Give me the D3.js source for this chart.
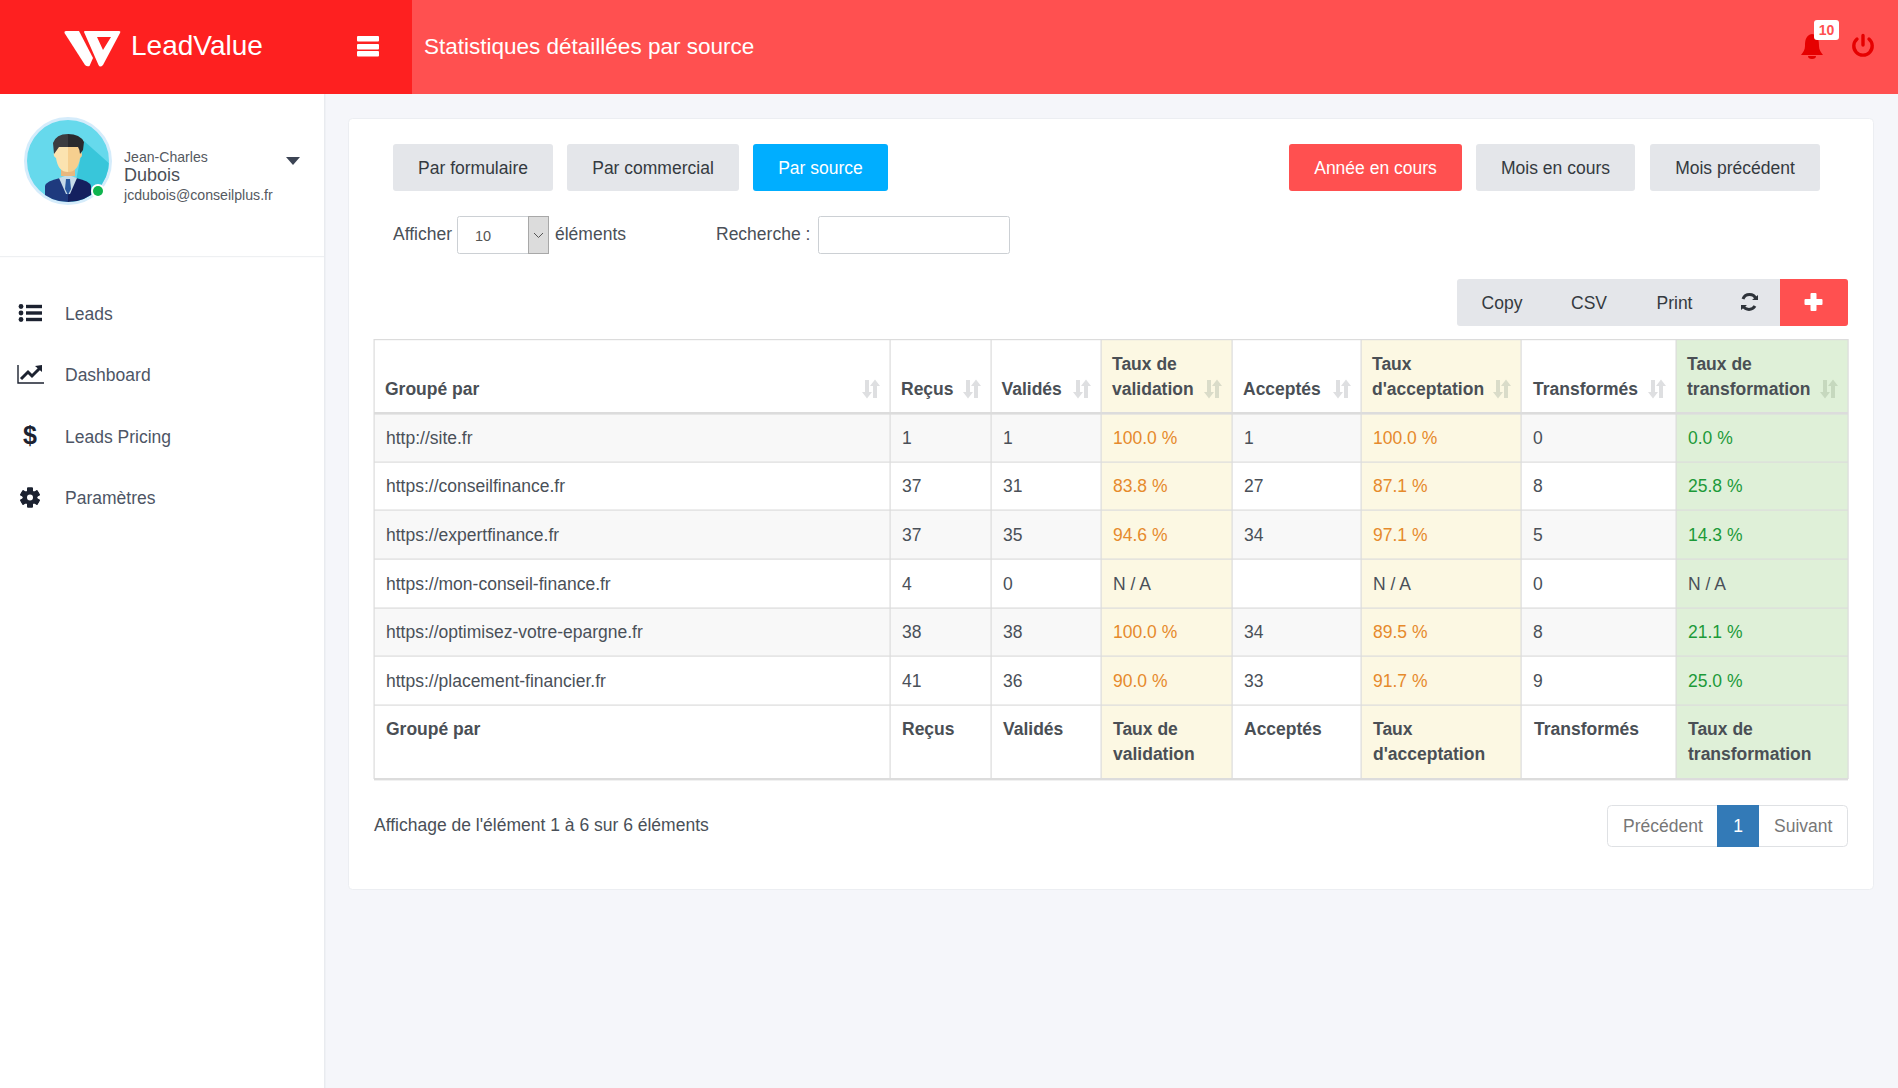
<!DOCTYPE html>
<html lang="fr"><head><meta charset="utf-8"><title>Statistiques détaillées par source</title>
<script src="https://cdn.jsdelivr.net/npm/d3@7"></script>
<style>html,body{margin:0;padding:0;background:#f5f6fa;overflow:hidden}svg{display:block}text{font-family:"Liberation Sans",Arial,sans-serif}</style>
</head><body><svg id="c" width="1898" height="1088" viewBox="0 0 1898 1088"></svg>
<script>
const sources=["http://site.fr","https://conseilfinance.fr","https://expertfinance.fr","https://mon-conseil-finance.fr","https://optimisez-votre-epargne.fr","https://placement-financier.fr"];
const recus=[1,37,37,4,38,41];
const valides=[1,31,35,0,38,36];
const tauxValidation=[100.0,83.8,94.6,null,100.0,90.0];
const acceptes=[1,27,34,null,34,33];
const tauxAcceptation=[100.0,87.1,97.1,null,89.5,91.7];
const transformes=[0,8,5,0,8,9];
const tauxTransformation=[0.0,25.8,14.3,null,21.1,25.0];
const headers=[["Groupé par"],["Reçus"],["Validés"],["Taux de","validation"],["Acceptés"],["Taux","d'acceptation"],["Transformés"],["Taux de","transformation"]];
const menuItems=["Leads","Dashboard","Leads Pricing","Paramètres"];
const periodButtons=["Année en cours","Mois en cours","Mois précédent"];
const groupButtons=["Par formulaire","Par commercial","Par source"];
const toolButtons=["Copy","CSV","Print"];

const FS=17.5;
const svg=d3.select("#c");
const colEdges=[374,890,991,1101,1232,1361,1521,1676,1848];
const kinds=["plain","plain","plain","warn","plain","warn","plain","ok"];
const rowY=d3.scaleBand().domain(sources).range([413,705]);
const fmtPct=v=>v===null?"N / A":d3.format(".1f")(v)+" %";
const fmtInt=v=>v===null?"":String(v);
const rowsData=sources.map((s,i)=>[s,fmtInt(recus[i]),fmtInt(valides[i]),fmtPct(tauxValidation[i]),fmtInt(acceptes[i]),fmtPct(tauxAcceptation[i]),fmtInt(transformes[i]),fmtPct(tauxTransformation[i])]);
const rect=(g,x,y,w,h,f,o={})=>g.append("rect").attr("x",x).attr("y",y).attr("width",w).attr("height",h).attr("fill",f).attr("rx",o.r||0).attr("stroke",o.s||"none").attr("stroke-width",o.sw||1);
const text=(g,x,y,t,o={})=>g.append("text").attr("x",x).attr("y",y).text(t).attr("font-size",o.fs||FS).attr("fill",o.f||"#4a5058").attr("font-weight",o.w||400).attr("text-anchor",o.a||"start").attr("font-family",o.ff||null);

// background
rect(svg,0,0,1898,1088,"#f5f6fa");
// sidebar
const side=svg.append("g");
rect(side,0,94,324,994,"#fff");
rect(side,324,94,1.5,994,"#e9ebef");
rect(side,0,256,324,1.2,"#eef0f2");
// header
rect(svg,0,0,1898,94,"#ff5050");
rect(svg,0,0,412,94,"#fe2020");
// logo
svg.append("path").attr("fill","#fff").attr("d","M64.5 33 Q64 31 66 31 L79 31 L93 58 L89.5 66 Q87 67 85 65 Z");
svg.append("path").attr("fill","#fff").attr("fill-rule","evenodd").attr("d","M84 32 Q84 31 85 31 L119 31 Q121 31 120 33 L103 65 Q100 68 98.5 65 Z M97 37 L111 37 L103 50 Z");
text(svg,131,54.5,"LeadValue",{fs:28,f:"#fff",ff:"Inter",w:500});
// hamburger
[36,44,51].forEach(y=>rect(svg,357,y,22,5.5,"#fff",{r:1}));
text(svg,424,54,"Statistiques détaillées par source",{fs:22.5,f:"#fff"});
// bell
const bell=svg.append("g");
bell.append("path").attr("fill","#e60000").attr("d","M1812 34 C1818 35 1819 40 1819 46 C1819 50 1821 52 1823 55 L1801 55 C1803 52 1805 50 1805 46 C1805 40 1806 35 1812 34 Z M1808 56 L1816 56 A4 3 0 0 1 1808 56 Z");
rect(svg,1814,20,25,20,"#fff",{r:3});
text(svg,1826.5,35,"10",{fs:14,f:"#ff5050",w:700,a:"middle",ff:"Liberation Serif"});
// power
svg.append("path").attr("fill","none").attr("stroke","#e60000").attr("stroke-width",3.4).attr("stroke-linecap","round").attr("d","M1857 39 A9.2 9.2 0 1 0 1869 39 M1863 35.5 L1863 45");
// avatar
const av=svg.append("g");
const avClip=svg.append("clipPath").attr("id","ac"); avClip.append("circle").attr("cx",68).attr("cy",161).attr("r",41);
av.append("circle").attr("cx",68).attr("cy",161).attr("r",42.5).attr("fill","#66d9ec").attr("stroke","#d5ecfb").attr("stroke-width",3);
const avg=av.append("g").attr("clip-path","url(#ac)");
avg.append("path").attr("fill","#38c6da").attr("d","M84 141 L112 166 L112 210 L70 210 Z");
avg.append("path").attr("fill","#1e3a7e").attr("d","M45 204 L45 186 Q46 181 60 178 L68 177 L68 204 Z");
avg.append("path").attr("fill","#14205f").attr("d","M68 177 L76 178 Q90 181 91 186 L91 204 L68 204 Z");
avg.append("path").attr("fill","#c6dbe8").attr("d","M59 178 L68 175 L77 178 L70 194 L66 194 Z");
avg.append("path").attr("fill","#2a5aa0").attr("d","M66 179 L70 179 L71 189 L68 195 L65 189 Z");
avg.append("rect").attr("x",61).attr("y",165).attr("width",14).attr("height",11).attr("fill","#e8b77e");
avg.append("path").attr("fill","#fbe3b0").attr("d","M68 142 L58 142 L55 150 Q52 156 56 158 Q58 172 68 172 Z");
avg.append("path").attr("fill","#f6cf8f").attr("d","M68 142 L78 142 L80 150 Q84 156 80 158 Q78 172 68 172 Z");
avg.append("path").attr("fill","#3c3c40").attr("d","M68 134 Q56 134 53 143 L54 154 Q57 150 59 147 L68 147 Z");
avg.append("path").attr("fill","#2a2a2e").attr("d","M68 134 Q80 134 84 142 L83 150 L80 154 Q80 150 78 147 L68 147 Z");
av.append("circle").attr("cx",98).attr("cy",191).attr("r",7).attr("fill","#fff");
av.append("circle").attr("cx",98).attr("cy",191).attr("r",5).attr("fill","#0fb44e");
text(svg,124,162,"Jean-Charles",{fs:14.1,f:"#55595f"});
text(svg,124,181,"Dubois",{fs:18,f:"#4a4f57"});
text(svg,124,200,"jcdubois@conseilplus.fr",{fs:14.15,f:"#55595f"});
svg.append("path").attr("fill","#3c4454").attr("d","M286 157 L300 157 L293 165 Z");
// menu
const menuY=d3.scalePoint().domain(menuItems).range([313.5,498]);
svg.selectAll(".menu").data(menuItems).join("text").attr("class","menu").attr("x",65).attr("y",d=>menuY(d)+6).text(d=>d).attr("font-size",FS).attr("fill","#4d5565");
const ic="#1c2230";
[0,1,2].forEach(i=>{const y=313-6.5+i*6.5;svg.append("circle").attr("cx",21).attr("cy",y).attr("r",2.4).attr("fill",ic);rect(svg,26,y-1.7,16,3.4,ic);});
svg.append("path").attr("fill","none").attr("stroke",ic).attr("stroke-width",1.4).attr("d","M18 365 L18 383 L44 383");
svg.append("path").attr("fill","none").attr("stroke",ic).attr("stroke-width",3).attr("d","M21 379 L28 372 L32 376 L40 368");
svg.append("path").attr("fill",ic).attr("d","M35 366 L42 365 L42 372 Z");
text(svg,30,444,"$",{fs:25,f:ic,w:700,a:"middle"});
const gear=svg.append("g").attr("transform",`translate(30,497.5)`);
d3.range(6).forEach(i=>gear.append("rect").attr("x",-3).attr("y",-10).attr("width",6).attr("height",20).attr("fill",ic).attr("rx",1).attr("transform",`rotate(${i*60})`));
gear.append("circle").attr("r",7.3).attr("fill",ic);
gear.append("circle").attr("r",3).attr("fill","#fff");
// panel
rect(svg,348.5,118.5,1525,771,"#fff",{r:4,s:"#eceef2"});
// buttons
const btn=(x0,x1,y0,y1,label,bg,fg)=>{rect(svg,x0,y0,x1-x0,y1-y0,bg,{r:3});text(svg,(x0+x1)/2,(y0+y1)/2+6,label,{f:fg,a:"middle"});};
const gb=[[393,553],[567,739],[753,888]];
groupButtons.forEach((b,i)=>btn(gb[i][0],gb[i][1],144,191,b,i==2?"#00aeff":"#e4e6ea",i==2?"#fff":"#343a40"));
const pb=[[1289,1462],[1476,1635],[1650,1820]];
periodButtons.forEach((b,i)=>btn(pb[i][0],pb[i][1],144,191,b,i==0?"#ff5050":"#e4e6ea",i==0?"#fff":"#343a40"));
// length + search
text(svg,393,240,"Afficher");
rect(svg,457.5,216.5,91,37,"#fff",{r:2,s:"#ccd0d4"});
rect(svg,528.5,216.5,20,37,"#dcdcdc",{s:"#a8a8a8"});
svg.append("path").attr("fill","none").attr("stroke","#555").attr("stroke-width",1).attr("d","M534 233 L538.5 237.5 L543 233");
text(svg,475,241,"10",{fs:14.5,f:"#555"});
text(svg,555,240,"éléments");
text(svg,716,240,"Recherche :");
rect(svg,818.5,216.5,191,37,"#fff",{r:2,s:"#ccd0d4"});
// toolbar
rect(svg,1457,279,391,47,"#e4e6ea",{r:3});
svg.append("path").attr("fill","#ff5050").attr("d","M1780 279 L1845 279 Q1848 279 1848 282 L1848 323 Q1848 326 1845 326 L1780 326 Z");
const tbX=[1502,1589,1674.5];
toolButtons.forEach((b,i)=>text(svg,tbX[i],309,b,{f:"#343a40",a:"middle"}));
const rf=svg.append("g").attr("fill","none").attr("stroke","#2e333a").attr("stroke-width",3);
rf.append("path").attr("d","M1743 299 A7 7 0 0 1 1756 299");
rf.append("path").attr("d","M1755 306 A7 7 0 0 1 1743 306");
svg.append("path").attr("fill","#2e333a").attr("d","M1752 300 L1758 300 L1758 295 Z M1741 305 L1747 305 L1741 310 Z");
rect(svg,1810.5,293,6,18,"#fff",{r:1});
rect(svg,1804.5,299,18,6,"#fff",{r:1});
// table bands
const tbl=svg.append("g");
const colW=i=>colEdges[i+1]-colEdges[i];
const bandBg={warn:"#fcf8e3",ok:"#dff0d8"};
sources.forEach((s,r)=>{if(r%2==0)rect(tbl,374,rowY(s),1474,rowY.bandwidth(),"#f8f8f8");});
kinds.forEach((k,i)=>{if(bandBg[k])rect(tbl,colEdges[i],339,colW(i),440,bandBg[k]);});
rowY.domain().forEach(s=>rect(tbl,374,Math.round(rowY(s)+rowY.bandwidth())-.5,1474,1.2,"#dcdcdc"));
rect(tbl,374,339,1474,1.2,"#dcdcdc");
rect(tbl,374,412,1474,2.6,"#dcdcdc");
rect(tbl,374,778,1474,2.4,"#dcdcdc");
colEdges.forEach(x=>rect(tbl,x-.5,339,1.2,440,"#dcdcdc"));
// header + footer
headers.forEach((h,i)=>{
 const x=colEdges[i]+(i==6?12:i==2?10.5:11);
 const hy=h.length==2?[370,395]:[395];
 h.forEach((l,j)=>text(tbl,x,hy[j],l,{w:700,f:"#4a4f55"}));
 const fy=h.length==2?[735,760]:[735];
 h.forEach((l,j)=>text(tbl,colEdges[i]+(i==6?13:12),fy[j],l,{w:700,f:"#4a4f55"}));
 const cx=colEdges[i+1]-19;
 const sc=kinds[i]=="plain"?"#dedfe1":kinds[i]=="ok"?"#c6d8be":"#dadcc9";
 const sg=tbl.append("g").attr("fill",sc);
 sg.append("path").attr("d",`M${cx-6} 380 h4 v12 h3 l-5 6.5 l-5 -6.5 h3 z`);
 sg.append("path").attr("d",`M${cx+2} 398 h4 v-12 h3 l-5 -6.5 l-5 6.5 h3 z`);
});
// body
const colorFor=(k,na)=>na?"#4a5058":k=="warn"?"#e68a2c":k=="ok"?"#1c9a38":"#4a5058";
const rowG=tbl.selectAll(".row").data(rowsData).join("g").attr("class","row").attr("transform",(d,i)=>`translate(0,${rowY(sources[i])+rowY.bandwidth()/2+6.3})`);
rowG.selectAll("text").data(d=>d.map((v,c)=>({v,c,na:v==="N / A"}))).join("text")
 .attr("x",d=>colEdges[d.c]+12).attr("y",0).text(d=>d.v).attr("font-size",FS)
 .attr("fill",d=>colorFor(kinds[d.c],d.na));
// info + pagination
text(svg,374,831,"Affichage de l'élément 1 à 6 sur 6 éléments");
rect(svg,1607.5,805.5,240,41,"#fff",{r:4,s:"#dfe1e4"});
rect(svg,1717,805,42,42,"#337ab7");
text(svg,1623,832,"Précédent",{f:"#777"});
text(svg,1738,832,"1",{f:"#fff",a:"middle"});
text(svg,1774,832,"Suivant",{f:"#777"});
</script></body></html>
